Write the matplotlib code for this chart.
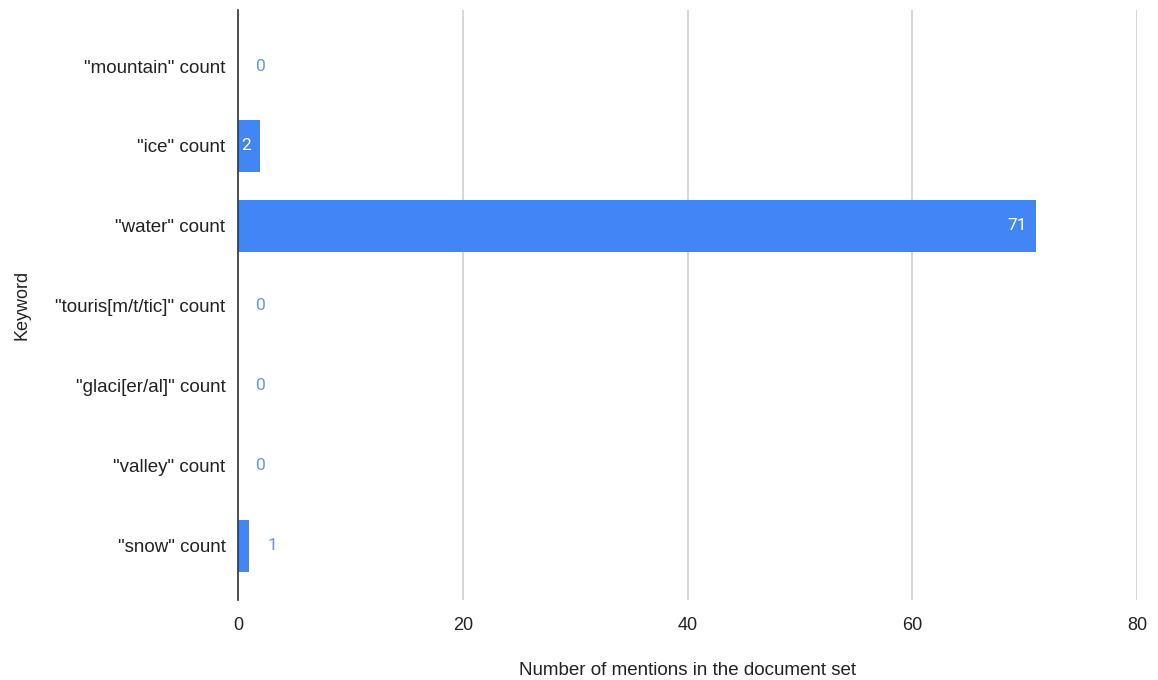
import matplotlib
matplotlib.use("Agg")
import matplotlib.pyplot as plt

# Data
keywords = ['"mountain" count', '"ice" count', '"water" count',
            '"touris[m/t/tic]" count', '"glaci[er/al]" count',
            '"valley" count', '"snow" count']
counts = [0, 2, 71, 0, 0, 0, 1]
xticks = [0, 20, 40, 60, 80]

bar_color = '#4285f4'
label_color = '#5e97f6'
text_color = '#222222'

fig = plt.figure(figsize=(11.58, 6.8), dpi=100)
ax = fig.add_axes([0.2055, 0.1176, 0.7764, 0.8676])

ypos = list(range(len(keywords)))
ax.barh(ypos, counts, height=0.65, color=bar_color, zorder=3)

# Value labels: inside the bar if there is room, otherwise just outside
for y, v in zip(ypos, counts):
    if v >= 2:
        ax.text(v - 0.8, y, str(v), color='white', ha='right', va='center',
                fontsize=12.5, family='Roboto', zorder=4)
    else:
        ax.text(v + 1.6, y, str(v), color=label_color, ha='left', va='center',
                fontsize=12.5, family='Roboto', zorder=4)

ax.set_xlim(0, 80)
ax.set_ylim(6.68, -0.7)
ax.set_xticks(xticks)
ax.set_xticklabels([str(t) for t in xticks], family='Liberation Sans',
                   fontsize=13, color=text_color)
ax.set_yticks(ypos)
ax.set_yticklabels(keywords, family='Liberation Sans', fontsize=13.5, color=text_color)
ax.tick_params(axis='both', length=0)
ax.tick_params(axis='x', pad=12)
ax.tick_params(axis='y', pad=9)

ax.grid(axis='x', color='#d0d0d0', linewidth=1.2, zorder=0)
for s in ['top', 'right', 'bottom']:
    ax.spines[s].set_visible(False)
ax.spines['left'].set_color('#333333')
ax.spines['left'].set_linewidth(1.2)
ax.spines['left'].set_zorder(5)

ax.set_xlabel('Number of mentions in the document set', family='Liberation Sans',
              fontsize=13.5, color=text_color, va='center')
ax.xaxis.set_label_coords(0.5, -0.12)
ax.set_ylabel('Keyword', family='Liberation Sans', fontsize=13, color=text_color, va='center')
ax.yaxis.set_label_coords(-0.24, 0.5)

plt.savefig('out.png', dpi=100)
